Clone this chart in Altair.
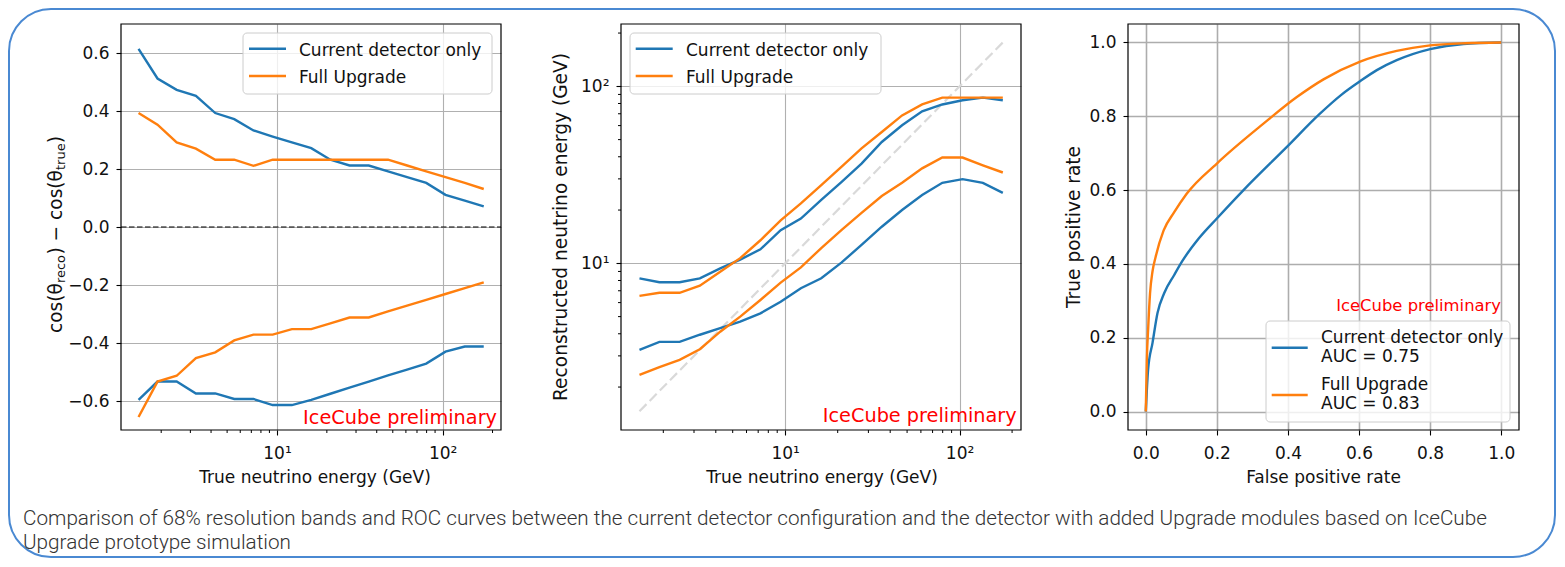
import altair as alt
import pandas as pd

FONT = "DejaVu Sans"
BLUE = "#1f77b4"
ORANGE = "#ff7f0e"
SERIES = ["Current detector only", "Full Upgrade"]

# ---------------- data ----------------
energy = [1.46, 1.90, 2.48, 3.24, 4.24, 5.52, 7.21, 9.42, 12.3, 16.1,
          21.0, 27.4, 35.8, 46.8, 61.0, 79.6, 104, 136, 177]

# panel 1: cos(theta_reco) - cos(theta_true), 68% band edges
cur_up = [0.614, 0.512, 0.473, 0.452, 0.393, 0.372, 0.333, 0.312, 0.292, 0.272,
          0.232, 0.212, 0.212, 0.192, 0.172, 0.152, 0.111, 0.091, 0.071]
cur_lo = [-0.596, -0.533, -0.533, -0.574, -0.574, -0.593, -0.593, -0.614, -0.614, -0.596,
          -0.575, -0.554, -0.533, -0.512, -0.492, -0.471, -0.430, -0.412, -0.412]
full_up = [0.393, 0.353, 0.292, 0.270, 0.232, 0.232, 0.211, 0.232, 0.232, 0.232,
           0.232, 0.232, 0.232, 0.232, 0.212, 0.192, 0.172, 0.152, 0.131]
full_lo = [-0.655, -0.533, -0.513, -0.452, -0.432, -0.391, -0.371, -0.371, -0.352, -0.352,
           -0.332, -0.312, -0.312, -0.291, -0.271, -0.251, -0.231, -0.211, -0.191]

# panel 2: reconstructed energy band edges (GeV)
cur_up2 = [8.23, 7.82, 7.82, 8.23, 9.37, 10.5, 12.0, 15.4, 17.9, 22.8,
           28.8, 36.6, 48.5, 60.3, 72.3, 79.0, 83.4, 86.3, 83.4]
cur_lo2 = [3.24, 3.60, 3.60, 3.95, 4.30, 4.69, 5.22, 6.07, 7.23, 8.23,
           10.1, 12.7, 16.1, 20.0, 24.3, 28.5, 29.9, 28.5, 25.0]
full_up2 = [6.55, 6.82, 6.82, 7.48, 8.97, 10.7, 13.5, 17.5, 21.8, 27.7,
            35.1, 44.6, 55.2, 68.5, 79.0, 86.3, 86.3, 86.3, 86.3]
full_lo2 = [2.34, 2.59, 2.85, 3.27, 4.11, 5.00, 6.21, 7.78, 9.49, 12.2,
            15.4, 19.3, 24.0, 28.5, 34.4, 39.6, 39.6, 35.8, 32.6]
diag = [1.46, 177]

# panel 3: ROC curves
roc_cur_fpr = [0, 0.0066, 0.019, 0.033, 0.052, 0.08, 0.103, 0.15, 0.2, 0.275,
               0.397, 0.49, 0.55, 0.603, 0.65, 0.706, 0.8, 0.894, 1.0]
roc_cur_tpr = [0, 0.114, 0.186, 0.267, 0.321, 0.37, 0.408, 0.47, 0.523, 0.6,
               0.717, 0.807, 0.858, 0.895, 0.925, 0.952, 0.982, 0.996, 1.0]
roc_full_fpr = [0, 0.003, 0.007, 0.012, 0.019, 0.028, 0.05, 0.08, 0.115, 0.2,
                0.331, 0.425, 0.5, 0.603, 0.706, 0.8, 0.9, 1.0]
roc_full_tpr = [0, 0.14, 0.23, 0.32, 0.38, 0.42, 0.49, 0.54, 0.59, 0.672,
                0.78, 0.852, 0.9, 0.948, 0.977, 0.992, 0.998, 1.0]

log_major = [10, 100]
log_minor = [2, 3, 4, 5, 6, 7, 8, 9, 20, 30, 40, 50, 60, 70, 80, 90, 200]
lin_ticks1 = [-0.6, -0.4, -0.2, 0.0, 0.2, 0.4, 0.6]
roc_ticks = [0.0, 0.2, 0.4, 0.6, 0.8, 1.0]

# ---------------- tables ----------------
def bands(x, series_bands):
    rows = []
    for s, b, vals in series_bands:
        for xi, v in zip(x, vals):
            rows.append({"E": xi, "v": v, "series": s, "band": s + b})
    return pd.DataFrame(rows)

df1 = bands(energy, [(SERIES[0], "up", cur_up), (SERIES[0], "lo", cur_lo),
                     (SERIES[1], "up", full_up), (SERIES[1], "lo", full_lo)])
df2 = bands(energy, [(SERIES[0], "up", cur_up2), (SERIES[0], "lo", cur_lo2),
                     (SERIES[1], "up", full_up2), (SERIES[1], "lo", full_lo2)])
dfd = pd.DataFrame({"E": diag, "v": diag})
rows = []
for s, fx, ty in [(SERIES[0], roc_cur_fpr, roc_cur_tpr), (SERIES[1], roc_full_fpr, roc_full_tpr)]:
    for a, b in zip(fx, ty):
        rows.append({"fpr": a, "tpr": b, "series": s})
df3 = pd.DataFrame(rows)
ONE = pd.DataFrame({"k": [0]})
MINOR = pd.DataFrame({"m": log_minor})

W1, W2, W3, H = 380, 400, 391, 406
EXTRA1 = 13          # extra empty room right of panel 1
GAP = 107
LW = 2.4

color = alt.Color("series:N", scale=alt.Scale(domain=SERIES, range=[BLUE, ORANGE]), legend=None)
LOGDOM = [1.144, 225]
xlog1 = alt.Scale(type="log", domain=LOGDOM, nice=False, range=[0, W1])
xlog2 = alt.Scale(type="log", domain=LOGDOM, nice=False)
ylog2 = alt.Scale(type="log", domain=LOGDOM, nice=False)
sup = "datum.value == 10 ? '10\u00b9' : '10\u00b2'"
ax_log = alt.Axis(values=log_major, labelExpr=sup, title=None, grid=True)


def txt(s, x, y, size=17, col="#111", align="left", baseline="middle", angle=0,
        font=FONT, weight="normal"):
    kw = dict(text=s, align=align, baseline=baseline, font=font, fontSize=size,
              color=col, fontWeight=weight)
    if angle:
        kw["angle"] = angle
    return alt.Chart(ONE).mark_text(**kw).encode(x=alt.value(x), y=alt.value(y))


def hline(x1, x2, y, c, w=LW):
    return alt.Chart(ONE).mark_rule(color=c, strokeWidth=w).encode(
        x=alt.value(x1), x2=alt.value(x2), y=alt.value(y))


def box(x1, x2, y1, y2):
    return alt.Chart(ONE).mark_rect(fill="white", fillOpacity=0.8, stroke="#cccccc",
                                    strokeWidth=1, cornerRadius=4).encode(
        x=alt.value(x1), x2=alt.value(x2), y=alt.value(y1), y2=alt.value(y2))


def frame(w):
    return alt.Chart(ONE).mark_rect(fillOpacity=0, stroke="black", strokeWidth=1.2).encode(
        x=alt.value(0), x2=alt.value(w), y=alt.value(0), y2=alt.value(H))


def minor_x(scale):
    return alt.Chart(MINOR).mark_rule(color="black", strokeWidth=1).encode(
        x=alt.X("m:Q", scale=scale, axis=ax_log), y=alt.value(H), y2=alt.value(H + 3))


def minor_y(scale):
    return alt.Chart(MINOR).mark_rule(color="black", strokeWidth=1).encode(
        y=alt.Y("m:Q", scale=scale, axis=ax_log), x=alt.value(0), x2=alt.value(-3))


# ---------------- panel 1 ----------------
y1 = alt.Scale(domain=[-0.7, 0.7], nice=False, zero=False)
ax_y1 = alt.Axis(values=lin_ticks1, format=".1f", title=None, grid=True)
card = alt.Chart(ONE).mark_rect(fillOpacity=0, stroke="#4a89d2", strokeWidth=2,
                                cornerRadius=42).encode(
    x=alt.value(-112), x2=alt.value(1434), y=alt.value(-15), y2=alt.value(533))
zero = alt.Chart(ONE).mark_rule(color="black", strokeWidth=1.2, strokeDash=[5.5, 2.5]).encode(
    y=alt.datum(0, scale=y1, axis=ax_y1), x=alt.value(0), x2=alt.value(W1))
lines1 = alt.Chart(df1).mark_line(strokeWidth=LW).encode(
    x=alt.X("E:Q", scale=xlog1, axis=ax_log),
    y=alt.Y("v:Q", scale=y1, axis=ax_y1),
    color=color, detail="band:N")
p1 = alt.layer(
    card, lines1, zero, minor_x(xlog1), frame(W1),
    box(122, 371, 9, 70), hline(128, 165, 24.7, BLUE), hline(128, 165, 52, ORANGE),
    txt(SERIES[0], 178, 26.5), txt(SERIES[1], 178, 53.6),
    txt("IceCube preliminary", 376, 393.5, size=19.3, col="#ff0000", align="right"),
    txt("True neutrino energy (GeV)", 194, 454, align="center"),
    txt("cos(θ", -59.3, 309, size=18.6, baseline="alphabetic", angle=270),
    txt("reco", -55.8, 259.1, size=13, baseline="alphabetic", angle=270),
    txt(") − cos(θ", -59.3, 230.6, size=18.6, baseline="alphabetic", angle=270),
    txt("true", -55.8, 146, size=13, baseline="alphabetic", angle=270),
    txt(")", -59.3, 119.3, size=18.6, baseline="alphabetic", angle=270),
    txt("Comparison of 68% resolution bands and ROC curves between the current detector "
        "configuration and the detector with added Upgrade modules based on IceCube",
        -98, 495, size=20.7, col="#333333", font="Roboto", weight=300),
    txt("Upgrade prototype simulation", -98, 519, size=20.7, col="#333333",
        font="Roboto", weight=300),
).properties(width=W1 + EXTRA1, height=H)

# ---------------- panel 2 ----------------
diag_line = alt.Chart(dfd).mark_line(color="#d9d9d9", strokeWidth=2.2, strokeDash=[10, 4.5]).encode(
    x=alt.X("E:Q", scale=xlog2, axis=ax_log), y=alt.Y("v:Q", scale=ylog2, axis=ax_log))
lines2 = alt.Chart(df2).mark_line(strokeWidth=LW).encode(
    x=alt.X("E:Q", scale=xlog2, axis=ax_log),
    y=alt.Y("v:Q", scale=ylog2, axis=ax_log),
    color=color, detail="band:N")
p2 = alt.layer(
    diag_line, lines2, minor_x(xlog2), minor_y(ylog2), frame(W2),
    box(9, 260, 9, 70), hline(14.7, 51.7, 24.7, BLUE), hline(14.7, 51.7, 52, ORANGE),
    txt(SERIES[0], 65, 26.5), txt(SERIES[1], 65, 53.6),
    txt("IceCube preliminary", 395.7, 392, size=19.3, col="#ff0000", align="right"),
    txt("True neutrino energy (GeV)", 201, 454, align="center"),
    txt("Reconstructed neutrino energy (GeV)", -54.3, 203, size=18.6, align="center",
        baseline="alphabetic", angle=270),
).properties(width=W2, height=H)

# ---------------- panel 3 ----------------
roc_scale = alt.Scale(domain=[-0.05, 1.05], nice=False, zero=False)
roc_axis = alt.Axis(values=roc_ticks, format=".1f", title=None, grid=True, gridWidth=1.6,
                    gridColor="#adadad")
lines3 = alt.Chart(df3).mark_line(strokeWidth=LW, interpolate="monotone").encode(
    x=alt.X("fpr:Q", scale=roc_scale, axis=roc_axis),
    y=alt.Y("tpr:Q", scale=roc_scale, axis=roc_axis),
    color=color)
p3 = alt.layer(
    lines3, frame(W3),
    txt("IceCube preliminary", 373, 281.8, size=16.4, col="#ff0000", align="right"),
    box(138, 382, 297, 398), hline(143.7, 179.7, 323.7, BLUE), hline(143.7, 179.7, 371, ORANGE),
    txt(SERIES[0], 193, 313.6), txt("AUC = 0.75", 193, 332.6),
    txt(SERIES[1], 193, 360.9), txt("AUC = 0.83", 193, 380.2),
    txt("False positive rate", 195.5, 454, align="center"),
    txt("True positive rate", -48, 203, size=18.6, align="center",
        baseline="alphabetic", angle=270),
).properties(width=W3, height=H)

chart = alt.hconcat(p1, p2, p3, spacing=GAP, bounds="flush").properties(
    padding=0, background="white"
).configure_view(
    stroke="transparent", strokeWidth=0
).configure_axis(
    domain=False, labelFont=FONT, labelFontSize=17, labelColor="#111",
    tickColor="black", tickWidth=1.1, tickSize=5, gridColor="#b0b0b0", gridWidth=1.1,
    labelFlush=False, labelOverlap=False
).configure_axisBottom(labelPadding=10).configure_axisLeft(labelPadding=7)

chart.save("out.html", embed_options={"renderer": "svg", "actions": False})
